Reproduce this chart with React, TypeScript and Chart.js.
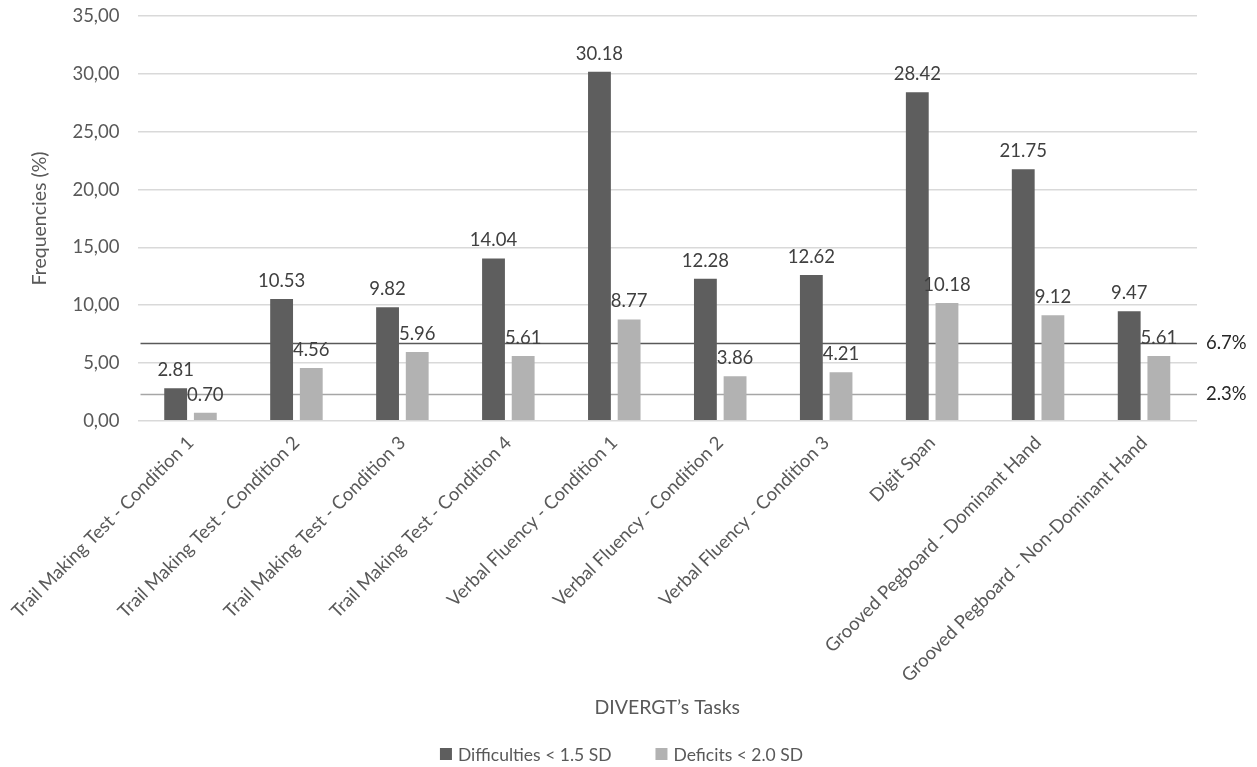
import React, { useEffect, useRef } from "react";
import { Chart, registerables } from "chart.js";

Chart.register(...registerables);

const categories = [
  "Trail Making Test - Condition 1",
  "Trail Making Test - Condition 2",
  "Trail Making Test - Condition 3",
  "Trail Making Test - Condition 4",
  "Verbal Fluency - Condition 1",
  "Verbal Fluency - Condition 2",
  "Verbal Fluency - Condition 3",
  "Digit Span",
  "Grooved Pegboard - Dominant Hand",
  "Grooved Pegboard - Non-Dominant Hand",
];

const difficulties = [2.81, 10.53, 9.82, 14.04, 30.18, 12.28, 12.62, 28.42, 21.75, 9.47];
const deficits = [0.7, 4.56, 5.96, 5.61, 8.77, 3.86, 4.21, 10.18, 9.12, 5.61];

const seriesNames = ["Difficulties < 1.5 SD", "Deficits < 2.0 SD"];
const seriesColors = ["#5e5e5e", "#b2b2b2"];

// Expected population rates for each cut-off, drawn as horizontal reference lines
const refValues = [6.7, 2.3];
const refLabels = ["6.7%", "2.3%"];
const refColors = ["#595959", "#a6a6a6"];

const FONT = "Lato, 'Open Sans', sans-serif";
const TEXT = "#595959";
const SIZE = 18.5;
const TITLE_SIZE = 19.5;

// Canvas is a little taller than the page and shifted up, so the plot can start near the top edge
const SHIFT = 13;
const W = 1257;
const H = 767 + SHIFT;

const valueLabels = {
  id: "valueLabels",
  afterDatasetsDraw(chart: any) {
    const { ctx } = chart;
    ctx.save();
    ctx.font = `${SIZE}px ${FONT}`;
    ctx.fillStyle = "#404040";
    ctx.textAlign = "center";
    ctx.textBaseline = "alphabetic";
    chart.data.datasets.forEach((ds: any, i: number) => {
      const meta = chart.getDatasetMeta(i);
      meta.data.forEach((bar: any, j: number) => {
        ctx.fillText(ds.data[j].toFixed(2), bar.x, bar.y - 12);
      });
    });
    ctx.restore();
  },
};

const refLines = {
  id: "refLines",
  beforeDatasetsDraw(chart: any) {
    const { ctx, chartArea, scales } = chart;
    ctx.save();
    refValues.forEach((v, i) => {
      const y = Math.round(scales.y.getPixelForValue(v)) + 0.5;
      ctx.strokeStyle = refColors[i];
      ctx.lineWidth = 1.5;
      ctx.beginPath();
      ctx.moveTo(chartArea.left + 3, y);
      ctx.lineTo(chartArea.right, y);
      ctx.stroke();
    });
    ctx.restore();
  },
  afterDraw(chart: any) {
    const { ctx, chartArea, scales } = chart;
    ctx.save();
    ctx.font = `${SIZE}px ${FONT}`;
    ctx.fillStyle = "#262626";
    ctx.textAlign = "left";
    ctx.textBaseline = "middle";
    refValues.forEach((v, i) => {
      const y = scales.y.getPixelForValue(v);
      ctx.fillText(refLabels[i], chartArea.right + 9, y);
    });
    ctx.restore();
  },
};

// Bottom legend with a wide gap between the two entries
const bottomLegend = {
  id: "bottomLegend",
  afterDraw(chart: any) {
    const { ctx } = chart;
    const box = 12;
    const textGap = 6;
    const itemGap = 44;
    ctx.save();
    ctx.font = `${SIZE - 1}px ${FONT}`;
    ctx.textBaseline = "middle";
    ctx.textAlign = "left";
    const widths = seriesNames.map((n) => ctx.measureText(n).width);
    const total = widths.reduce((a, w) => a + box + textGap + w, 0) + itemGap * (seriesNames.length - 1);
    let x = chart.width / 2 - 7 - total / 2;
    const y = 754 + SHIFT;
    seriesNames.forEach((name, i) => {
      ctx.fillStyle = seriesColors[i];
      ctx.fillRect(x, y - box / 2, box, box);
      ctx.fillStyle = TEXT;
      ctx.fillText(name, x + box + textGap, y + 1);
      x += box + textGap + widths[i] + itemGap;
    });
    ctx.restore();
  },
};

export default function App() {
  const canvasRef = useRef<HTMLCanvasElement | null>(null);

  useEffect(() => {
    const canvas = canvasRef.current;
    if (!canvas) return;
    const chart = new Chart(canvas, {
      type: "bar",
      data: {
        labels: categories,
        datasets: [
          {
            label: seriesNames[0],
            data: difficulties,
            backgroundColor: seriesColors[0],
            categoryPercentage: 0.56,
            barPercentage: 0.77,
          },
          {
            label: seriesNames[1],
            data: deficits,
            backgroundColor: seriesColors[1],
            categoryPercentage: 0.56,
            barPercentage: 0.77,
          },
        ],
      },
      options: {
        animation: false,
        responsive: false,
        maintainAspectRatio: false,
        layout: { padding: { left: 24, right: 60, top: 0, bottom: 44 } },
        plugins: {
          legend: { display: false },
          tooltip: { enabled: false },
        },
        scales: {
          x: {
            grid: { display: false },
            border: { display: false },
            ticks: {
              font: { family: FONT, size: SIZE },
              color: TEXT,
              maxRotation: 45,
              minRotation: 45,
              autoSkip: false,
            },
            title: {
              display: true,
              text: "DIVERGT’s Tasks",
              font: { family: FONT, size: TITLE_SIZE },
              color: TEXT,
              padding: { top: 6, bottom: 4 },
            },
          },
          y: {
            min: 0,
            max: 35,
            grid: { color: "#d9d9d9", lineWidth: 1.5, drawTicks: false },
            border: { display: false },
            ticks: {
              stepSize: 5,
              font: { family: FONT, size: SIZE },
              color: TEXT,
              padding: 18,
              callback: (v: any) => Number(v).toFixed(2).replace(".", ","),
            },
            title: {
              display: true,
              text: "Frequencies (%)",
              font: { family: FONT, size: TITLE_SIZE },
              color: TEXT,
              padding: { bottom: 3 },
            },
          },
        },
      },
      plugins: [refLines, valueLabels, bottomLegend],
    });
    return () => chart.destroy();
  }, []);

  return (
    <div style={{ position: "absolute", left: 0, top: 0, width: W, height: 767, overflow: "hidden", background: "#fff" }}>
      <canvas ref={canvasRef} width={W} height={H} style={{ position: "absolute", left: 0, top: -SHIFT }} />
    </div>
  );
}
